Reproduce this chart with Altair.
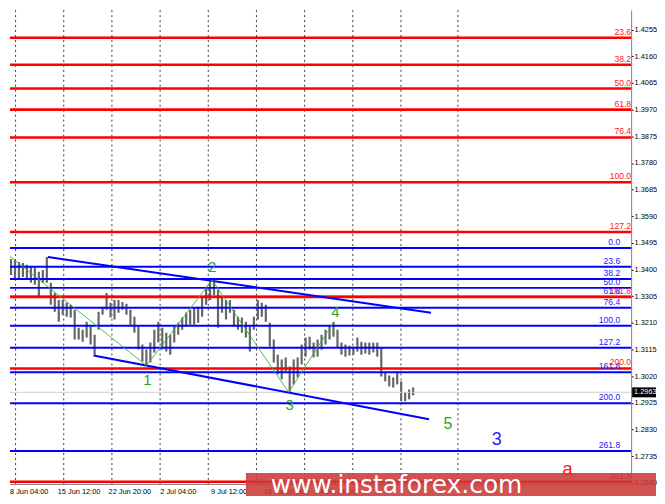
import altair as alt
import pandas as pd

# ---------------- data ----------------
# price bars: time index (one step ~ 2.6 H4 bars), high, low
bar_t = list(range(104))
bar_high = [1.3470, 1.3449, 1.3438, 1.3434, 1.3427, 1.3424, 1.3417, 1.3409, 1.3406, 1.3392,
            1.3399, 1.3445, 1.3353, 1.3317, 1.3292, 1.3292, 1.3282, 1.3275, 1.3257, 1.3193,
            1.3186, 1.3214, 1.3197, 1.3168, 1.3250, 1.3268, 1.3317, 1.3282, 1.3292, 1.3292,
            1.3285, 1.3278, 1.3257, 1.3232, 1.3197, 1.3133, 1.3115, 1.3140, 1.3186, 1.3214,
            1.3193, 1.3175, 1.3168, 1.3197, 1.3211, 1.3229, 1.3246, 1.3257, 1.3264, 1.3268,
            1.3303, 1.3339, 1.3363, 1.3356, 1.3328, 1.3303, 1.3292, 1.3292, 1.3257, 1.3232,
            1.3229, 1.3214, 1.3197, 1.3232, 1.3292, 1.3282, 1.3275, 1.3211, 1.3151, 1.3097,
            1.3080, 1.3087, 1.3055, 1.3080, 1.3087, 1.3133, 1.3158, 1.3161, 1.3140, 1.3151,
            1.3168, 1.3186, 1.3200, 1.3214, 1.3186, 1.3140, 1.3133, 1.3129, 1.3126, 1.3158,
            1.3143, 1.3140, 1.3140, 1.3140, 1.3140, 1.3122, 1.3037, 1.3023, 1.3016, 1.3037,
            1.3002, 1.2963, 1.2973, 1.2980]
bar_low = [1.3427, 1.3399, 1.3381, 1.3370, 1.3363, 1.3374, 1.3363, 1.3353, 1.3346, 1.3303,
           1.3353, 1.3353, 1.3275, 1.3250, 1.3214, 1.3239, 1.3232, 1.3229, 1.3151, 1.3151,
           1.3143, 1.3158, 1.3133, 1.3097, 1.3186, 1.3239, 1.3257, 1.3229, 1.3222, 1.3246,
           1.3257, 1.3239, 1.3204, 1.3175, 1.3115, 1.3073, 1.3058, 1.3069, 1.3105, 1.3140,
           1.3115, 1.3108, 1.3097, 1.3140, 1.3168, 1.3186, 1.3197, 1.3204, 1.3204, 1.3211,
           1.3232, 1.3275, 1.3292, 1.3310, 1.3193, 1.3246, 1.3222, 1.3246, 1.3197, 1.3186,
           1.3175, 1.3158, 1.3108, 1.3186, 1.3222, 1.3232, 1.3214, 1.3126, 1.3069, 1.3027,
           1.3009, 1.3037, 1.2963, 1.2991, 1.3016, 1.3062, 1.3090, 1.3115, 1.3087, 1.3090,
           1.3115, 1.3133, 1.3151, 1.3161, 1.3122, 1.3097, 1.3090, 1.3094, 1.3097, 1.3108,
           1.3097, 1.3101, 1.3097, 1.3105, 1.3090, 1.3019, 1.3002, 1.2984, 1.2980, 1.2991,
           1.2931, 1.2931, 1.2938, 1.2952]

# Fibonacci grids
red_labels = ["23.6", "38.2", "50.0", "61.8", "76.4", "100.0", "127.2", "161.8", "200.0", "261.8"]
red_levels = [1.4226, 1.4130, 1.4045, 1.3970, 1.3871, 1.3711, 1.3534, 1.3303, 1.3048, 1.2644]
blue_labels = ["0.0", "23.6", "38.2", "50.0", "61.8", "76.4", "100.0", "127.2", "161.8", "200.0", "261.8"]
blue_levels = [1.3477, 1.3410, 1.3367, 1.3335, 1.3303, 1.3264, 1.3200, 1.3122, 1.3034, 1.2924, 1.2754]

# channel lines (id, time, price)
chan_id = ["up", "up", "low", "low"]
chan_t = [11.25, 107.5, 22.75, 107.0]
chan_p = [1.3445, 1.3246, 1.3094, 1.2867]

# wave path
wave_t = [-0.25, 36.0, 52.5, 71.75, 83.0]
wave_p = [1.3470, 1.3058, 1.3363, 1.2963, 1.3211]

# wave labels
lab_text = ["1", "2", "3", "4", "5", "3", "a"]
lab_t = [36.25, 52.5, 72.0, 83.5, 111.75, 124.0, 141.75]
lab_p = [1.3005, 1.3410, 1.2917, 1.3250, 1.2849, 1.2792, 1.2690]
lab_color = ["#2e9e2e", "#2e9e2e", "#2e9e2e", "#2e9e2e", "#2e9e2e", "#1a1aff", "#ff1a1a"]
lab_size = [15, 15, 15, 15, 16, 18, 19]

# time grid and labels
grid_t = [3.15, 15.25, 27.35, 39.45, 51.55, 63.65, 75.75, 87.85, 99.95, 114.25]
xlab_t = [1.75, 13.75, 26.5, 39.5, 52.25, 65.5, 78.5]
xlab_text = ["8 Jun 04:00", "15 Jun 12:00", "22 Jun 20:00", "2 Jul 04:00", "9 Jul 12:00",
             "16 Jul 20:00", "24 Jul 04:00"]

ytick_vals = [1.2640, 1.2735, 1.2830, 1.2925, 1.3020, 1.3115, 1.3210, 1.3305, 1.3400,
              1.3495, 1.3590, 1.3685, 1.3780, 1.3875, 1.3970, 1.4065, 1.4160, 1.4255]
last_price = [1.2963]

# ---------------- chart ----------------
W, H = 624, 476
R = 25  # room right of the plot (must keep page inside the window)
FONT = "Liberation Sans"
xs = alt.Scale(domain=[1.75, 157.75], nice=False, zero=False)
ys = alt.Scale(domain=[1.26365, 1.43245], nice=False, zero=False)
xax = alt.Axis(labels=False, ticks=False, grid=False, domainColor="#808080", title=None)
yax = alt.Axis(orient="right", values=ytick_vals, format=".4f", grid=False, tickSize=2,
               tickColor="#000000", labelFontSize=7.4, labelFont=FONT, labelColor="#000000",
               labelPadding=1, domainColor="#808080", title=None)


def X(f):
    return alt.X(f, type="quantitative", scale=xs, axis=xax)


def Y(f):
    return alt.Y(f, type="quantitative", scale=ys, axis=yax)


one = pd.DataFrame({"a": [0]})

grid = alt.Chart(pd.DataFrame({"t": grid_t})).mark_rule(
    color="#3a3a3a", strokeDash=[2, 3], strokeWidth=1).encode(x=X("t"))

bars_df = pd.DataFrame({"t": bar_t, "high": bar_high, "low": bar_low})
bars = alt.Chart(bars_df).mark_rule(color="#666666", strokeWidth=2.2, clip=True).encode(
    x=X("t"), y=Y("high"), y2="low")

bid = alt.Chart(pd.DataFrame({"p": last_price})).mark_rule(
    color="#cfcfcf", strokeWidth=1).encode(y=Y("p"))

red_df = pd.DataFrame({"p": red_levels, "lab": red_labels})
blue_df = pd.DataFrame({"p": blue_levels, "lab": blue_labels})
red_lines = alt.Chart(red_df).mark_rule(color="#ff0000", strokeWidth=2.6).encode(y=Y("p"))
blue_lines = alt.Chart(blue_df).mark_rule(color="#0000ff", strokeWidth=2).encode(y=Y("p"))
red_text = alt.Chart(red_df).mark_text(
    align="right", baseline="bottom", dy=-1, fontSize=8.6, font=FONT, color="#ff2020").encode(
    x=alt.value(W), y=Y("p"), text="lab:N")
blue_text = alt.Chart(blue_df).mark_text(
    align="right", baseline="bottom", dy=-1, fontSize=8.6, font=FONT, color="#2020ff").encode(
    x=alt.value(W - 11), y=Y("p"), text="lab:N")

chan_df = pd.DataFrame({"id": chan_id, "t": chan_t, "p": chan_p})
chan = alt.Chart(chan_df).mark_line(color="#0000ff", strokeWidth=2).encode(
    x=X("t"), y=Y("p"), detail="id:N")

wave_df = pd.DataFrame({"t": wave_t, "p": wave_p})
wave = alt.Chart(wave_df).mark_line(color="#3cb43c", strokeWidth=0.9, clip=True).encode(
    x=X("t"), y=Y("p"))

lab_df = pd.DataFrame({"t": lab_t, "p": lab_p, "txt": lab_text, "c": lab_color, "s": lab_size})
labels = alt.Chart(lab_df).mark_text(font=FONT, baseline="middle", align="center").encode(
    x=X("t"), y=Y("p"), text="txt:N",
    color=alt.Color("c:N", scale=None), size=alt.Size("s:Q", scale=None))

xlab_df = pd.DataFrame({"t": xlab_t, "txt": xlab_text})
xlabels = alt.Chart(xlab_df).mark_text(
    align="left", baseline="middle", fontSize=7.4, font=FONT, color="#000000").encode(
    x=X("t"), y=alt.value(H + 8), text="txt:N")

wm_box = alt.Chart(one).mark_rect(color="#cc3a3a", opacity=0.88).encode(
    x=alt.value(237), x2=alt.value(W + R), y=alt.value(H - 11), y2=alt.value(H + 12))
wm_text = alt.Chart(pd.DataFrame({"txt": ["www.instaforex.com"]})).mark_text(
    align="left", baseline="middle", fontSize=25, font="DejaVu Sans", color="#ffffff").encode(
    x=alt.value(262), y=alt.value(H + 1), text="txt:N")

pbox = alt.Chart(pd.DataFrame({"p": last_price})).mark_rect(color="#000000").encode(
    x=alt.value(W + 1), x2=alt.value(W + R), y=alt.value(379), y2=alt.value(389))
ptext = alt.Chart(pd.DataFrame({"p": last_price})).mark_text(
    align="left", baseline="middle", fontSize=7.4, font=FONT, color="#ffffff").encode(
    x=alt.value(W + 3), y=Y("p"), text=alt.Text("p:Q", format=".4f"))

chart = alt.layer(
    grid, bars, bid, blue_lines, red_lines, chan, wave, labels,
    red_text, blue_text, xlabels, wm_box, wm_text, pbox, ptext
).properties(width=W, height=H, padding=0).configure_view(stroke=None)

chart.save("out.html", embed_options={"renderer": "svg", "actions": False})
